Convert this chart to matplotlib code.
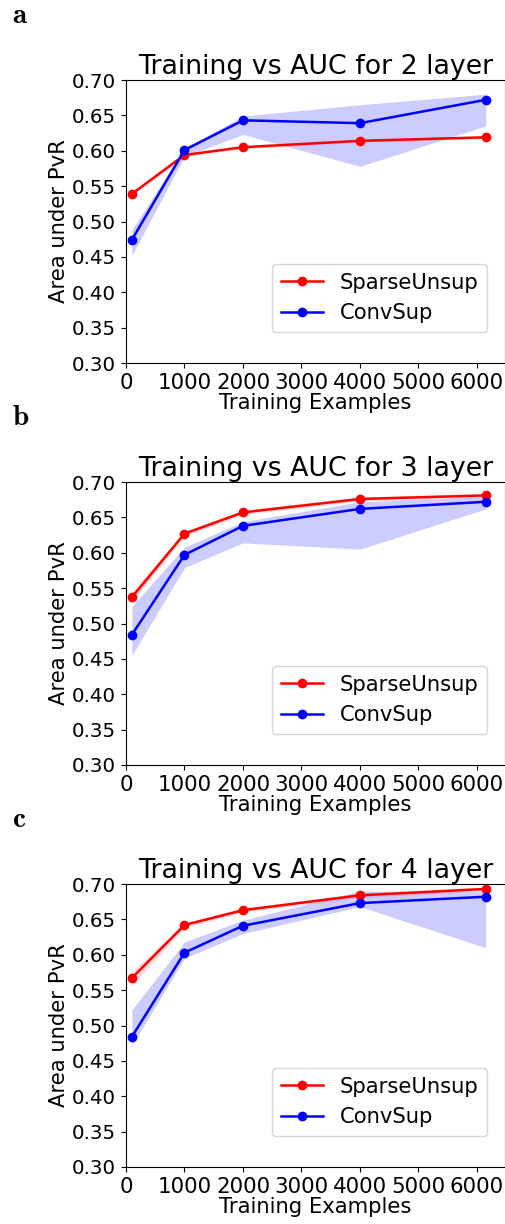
import matplotlib.pyplot as plt
import numpy as np

plt.rcParams['font.size'] = 15.2
plt.rcParams['xtick.labelsize'] = 15.4
plt.rcParams['ytick.labelsize'] = 14.3
plt.rcParams['mathtext.fontset'] = 'cm'

train_sizes = [100, 1000, 2000, 4000, 6150]
layers = [2, 3, 4]
panel_tags = ['a', 'b', 'c']

# mean AUC and band (low, high) per layer
sparse_mean = [
    [0.539, 0.594, 0.605, 0.614, 0.619],
    [0.537, 0.627, 0.657, 0.676, 0.681],
    [0.567, 0.642, 0.663, 0.684, 0.693],
]
sparse_low = [
    [0.537, 0.592, 0.603, 0.612, 0.617],
    [0.530, 0.623, 0.654, 0.673, 0.678],
    [0.556, 0.638, 0.660, 0.681, 0.690],
]
sparse_high = [
    [0.541, 0.596, 0.607, 0.616, 0.621],
    [0.544, 0.630, 0.660, 0.679, 0.684],
    [0.576, 0.645, 0.666, 0.687, 0.696],
]
conv_mean = [
    [0.474, 0.601, 0.643, 0.639, 0.672],
    [0.484, 0.597, 0.638, 0.662, 0.672],
    [0.484, 0.603, 0.641, 0.673, 0.682],
]
conv_low = [
    [0.452, 0.592, 0.623, 0.578, 0.635],
    [0.455, 0.579, 0.614, 0.605, 0.662],
    [0.472, 0.595, 0.630, 0.668, 0.610],
]
conv_high = [
    [0.488, 0.604, 0.649, 0.665, 0.680],
    [0.524, 0.608, 0.644, 0.672, 0.679],
    [0.522, 0.618, 0.649, 0.690, 0.689],
]

fig = plt.figure(figsize=(5.06, 12.24), dpi=100)
W, H = 506., 1224.
tops = [80, 482, 884]
for i, layer in enumerate(layers):
    top = tops[i]
    ax = fig.add_axes([126 / W, 1 - (top + 283) / H, 379 / W, 283 / H])
    x = train_sizes
    ax.fill_between(x, sparse_low[i], sparse_high[i], color='r', alpha=0.15, lw=0)
    ax.fill_between(x, conv_low[i], conv_high[i], color='b', alpha=0.2, lw=0)
    ax.plot(x, sparse_mean[i], 'r-o', lw=1.8, ms=6, label='SparseUnsup')
    ax.plot(x, conv_mean[i], 'b-o', lw=1.8, ms=6, label='ConvSup')
    ax.set_xlim(0, 6480)
    ax.set_ylim(0.3, 0.7)
    ax.set_xticks(np.arange(0, 7000, 1000))
    ax.set_yticks(np.arange(0.30, 0.701, 0.05))
    ax.set_title('Training vs AUC for %d layer' % layer, fontsize=19.3, pad=3)
    ax.set_xlabel('Training Examples', labelpad=0)
    ax.set_ylabel('Area under PvR', labelpad=2)
    ax.legend(loc='lower right', bbox_to_anchor=(0.9525, 0.11), borderaxespad=0)
    # panel letter in computer modern bold
    fig.text(12 / W, 1 - (top - 57) / H, r'$\mathbf{%s}$' % panel_tags[i],
             fontsize=21, va='baseline', ha='left')

fig.savefig('out.png', dpi=100)
